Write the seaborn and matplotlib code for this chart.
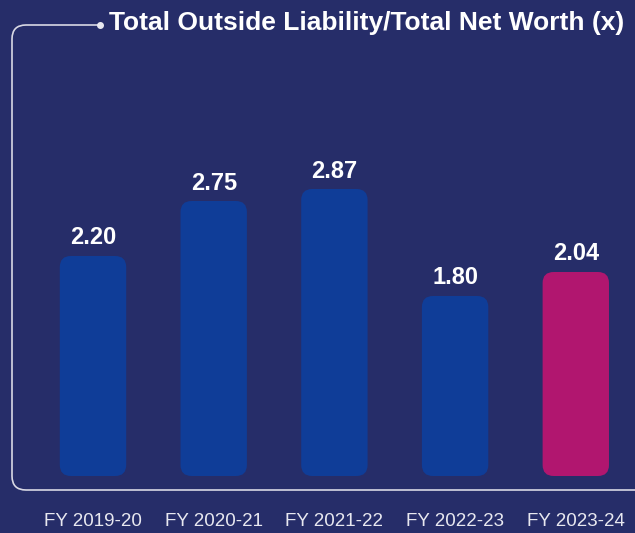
import numpy as np
import pandas as pd
import seaborn as sns
import matplotlib.pyplot as plt
from matplotlib.patches import FancyBboxPatch
from matplotlib.path import Path
from matplotlib.patches import PathPatch

years = ['FY 2019-20', 'FY 2020-21', 'FY 2021-22', 'FY 2022-23', 'FY 2023-24']
ratios = [2.20, 2.75, 2.87, 1.80, 2.04]
bar_colors = ['#0F3D98', '#0F3D98', '#0F3D98', '#0F3D98', '#B1166F']
title = 'Total Outside Liability/Total Net Worth (x)'

bg = '#262D69'
W, H = 635, 533

sns.set_theme(style='white')
plt.rcParams['font.family'] = ['Liberation Sans', 'DejaVu Sans']

df = pd.DataFrame({'year': years, 'ratio': ratios})

fig = plt.figure(figsize=(W / 100, H / 100), dpi=100, facecolor=bg)

# axes placed so that bar bottoms sit at y=476px, 100px per unit
ax = fig.add_axes([0, (H - 476) / H, 1, 476 / H])
ax.set_facecolor('none')
sns.barplot(data=df, x='year', y='ratio', hue='year', palette=bar_colors,
            legend=False, width=0.55, ax=ax, saturation=1)

step = 120.7
ax.set_xlim(-93 / step, (W - 93) / step)
ax.set_ylim(0, 4.76)

# swap plain bars for rounded ones
x_per_px = 1 / step
y_per_px = 0.01
for p in list(ax.patches):
    x0, y0 = p.get_x(), p.get_y()
    w, h = p.get_width(), p.get_height()
    fc = p.get_facecolor()
    p.remove()
    r = 11 * x_per_px
    ax.add_patch(FancyBboxPatch((x0, y0), w, h,
                                boxstyle=f'round,pad=0,rounding_size={r}',
                                mutation_aspect=y_per_px / x_per_px,
                                fc=fc, ec='none'))

for i, v in enumerate(ratios):
    ax.text(i, v + 0.18, f'{v:.2f}', ha='center', va='center', color='white',
            fontsize=17, fontweight='bold')

ax.set_xlabel('')
ax.set_ylabel('')
ax.set_yticks([])
ax.tick_params(axis='x', length=0, pad=27, labelsize=13.5, labelcolor='#E8E8F0')
for s in ax.spines.values():
    s.set_visible(False)

# frame line with rounded corners, in pixel coords
ov = fig.add_axes([0, 0, 1, 1], facecolor='none')
ov.set_xlim(0, W)
ov.set_ylim(H, 0)
ov.axis('off')
r = 14
verts = [(100, 25), (12 + r, 25), (12, 25), (12, 25 + r),
         (12, 490 - r), (12, 490), (12 + r, 490), (W + 5, 490)]
codes = [Path.MOVETO, Path.LINETO, Path.CURVE3, Path.CURVE3,
         Path.LINETO, Path.CURVE3, Path.CURVE3, Path.LINETO]
ov.add_patch(PathPatch(Path(verts, codes), fc='none', ec='#D8D8E4', lw=1.2))
ov.plot([100], [25], 'o', color='#E8E8F0', ms=4)
ov.text(109, 23, title, ha='left', va='center', color='white',
        fontsize=19, fontweight='bold')

fig.savefig('out.png', dpi=100, facecolor=bg)
